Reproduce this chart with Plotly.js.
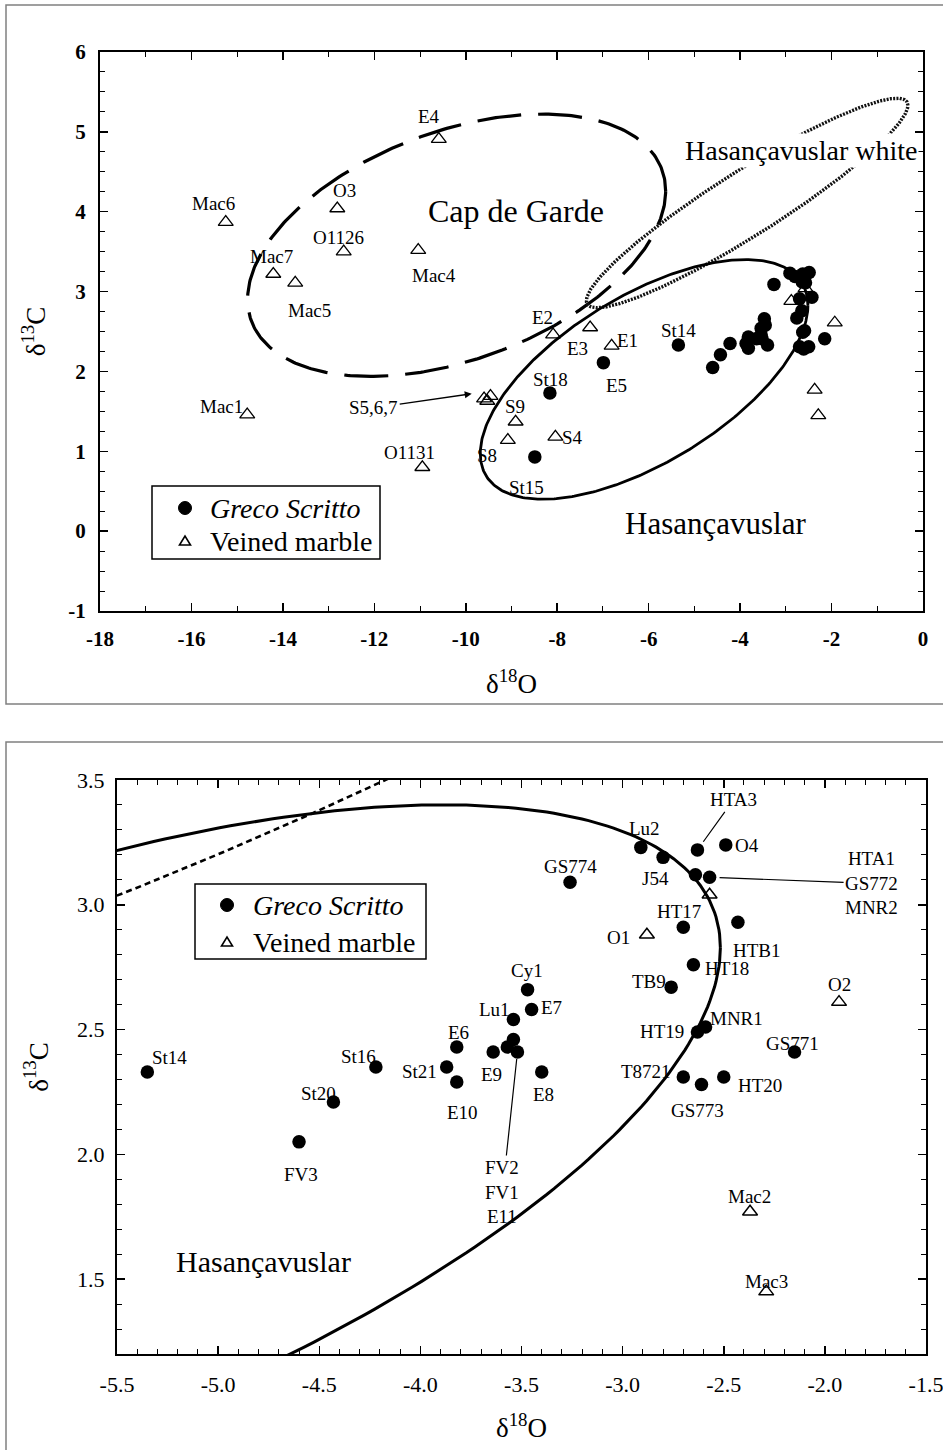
<!DOCTYPE html>
<html><head><meta charset="utf-8">
<script src="https://cdn.plot.ly/plotly-3.0.1.min.js"></script>
<style>html,body{margin:0;padding:0;background:#fff}</style>
</head><body>
<div id="chart" style="width:943px;height:1450px"></div>
<script>
// ---------- DATA ----------
// Greco Scritto samples (shown in both panels)
const grecoNames = ['St14','St20','FV3','St16','St21','E10','E6','E9','Lu1','E7','FV2','FV1','E11','E8','Cy1','GS774','Lu2','J54','HTA3','O4','HTA1','GS772','HT17','HTB1','HT18','TB9','MNR1','HT19','GS771','T8721','GS773','HT20'];
const grecoO = [-5.35,-4.43,-4.60,-4.22,-3.87,-3.82,-3.82,-3.64,-3.54,-3.45,-3.54,-3.57,-3.52,-3.40,-3.47,-3.26,-2.91,-2.80,-2.63,-2.49,-2.64,-2.57,-2.70,-2.43,-2.65,-2.76,-2.59,-2.63,-2.15,-2.70,-2.61,-2.50];
const grecoC = [2.33,2.21,2.05,2.35,2.35,2.29,2.43,2.41,2.54,2.58,2.46,2.43,2.41,2.33,2.66,3.09,3.23,3.19,3.22,3.24,3.12,3.11,2.91,2.93,2.76,2.67,2.51,2.49,2.41,2.31,2.28,2.31];
// Greco Scritto samples outside the detail window (overview only)
const grecoExtraNames = ['St18','E5','St15'];
const grecoExtraO = [-8.16,-6.99,-8.49];
const grecoExtraC = [1.73,2.11,0.93];
// Veined marble samples (both panels)
const veinedNames = ['MNR2','O1','O2','Mac2','Mac3'];
const veinedO = [-2.57,-2.88,-1.93,-2.37,-2.29];
const veinedC = [3.04,2.88,2.61,1.77,1.45];
// Veined marble samples outside the detail window (overview only)
const veinedExtraNames = ['E4','O3','O1126','Mac6','Mac7','Mac5','Mac4','Mac1','O1131','S5','S6','S7','S9','S8','S4','E2','E3','E1'];
const veinedExtraO = [-10.59,-12.81,-12.67,-15.25,-14.21,-13.73,-11.04,-14.78,-10.95,-9.60,-9.46,-9.53,-8.91,-9.08,-8.04,-8.09,-7.28,-6.81];
const veinedExtraC = [4.91,4.04,3.50,3.87,3.22,3.11,3.52,1.46,0.80,1.66,1.69,1.63,1.37,1.14,1.18,2.46,2.55,2.32];
// Field outlines: centre [d18O, d13C] and spread [var O, cov, var C]
const capCenter = [-10.2, 3.58];
const capSpread = [20.9, 3.1, 2.70];
const hasCenter = [-6.1, 1.9];
const hasSpread = [12.84, 3.324, 2.252];
const whiteTopCenter = [-3.846, 4.109];      // as drawn in the overview panel
const whiteTopSpread = [12.366, 4.298, 1.720];
const whiteCenter = [-3.846, 4.06];          // as drawn in the detail panel
const whiteSpread = [12.33, 4.76, 2.028];
// Tick labels
const topXTicks = [-18,-16,-14,-12,-10,-8,-6,-4,-2,0];
const topXText = ['-18','-16','-14','-12','-10','-8','-6','-4','-2','0'];
const topYTicks = [-1,0,1,2,3,4,5,6];
const topYText = ['-1','0','1','2','3','4','5','6'];
const botXTicks = [-5.5,-5,-4.5,-4,-3.5,-3,-2.5,-2,-1.5];
const botXText = ['-5.5','-5.0','-4.5','-4.0','-3.5','-3.0','-2.5','-2.0','-1.5'];
const botYTicks = [1.5,2,2.5,3,3.5];
const botYText = ['1.5','2.0','2.5','3.0','3.5'];
const legendNames = ['<i>Greco Scritto</i>', 'Veined marble'];

// ---------- STYLE / LAYOUT ----------
const SERIF = 'Liberation Serif, Times New Roman, serif';
const W = 943, H = 1450;

function ellipse(c, s, n) {
  const a = Math.sqrt(s[0]), b = s[1] / a, cc = Math.sqrt(s[2] - b * b);
  const xs = [], ys = [];
  for (let i = 0; i <= n; i++) {
    const t = 2 * Math.PI * i / n;
    xs.push(c[0] + a * Math.cos(t));
    ys.push(c[1] + b * Math.cos(t) + cc * Math.sin(t));
  }
  return {xs, ys};
}
const capE = ellipse(capCenter, capSpread, 400);
const hasE = ellipse(hasCenter, hasSpread, 400);
const whiteTopE = ellipse(whiteTopCenter, whiteTopSpread, 700);
const whiteE = ellipse(whiteCenter, whiteSpread, 600);

const traces = [];
// top panel curves
traces.push({x: capE.xs, y: capE.ys, xaxis:'x', yaxis:'y', mode:'lines', showlegend:false, hoverinfo:'skip',
  line:{color:'#000', width:3.2, dash:'44px,17px'}});
traces.push({x: whiteTopE.xs, y: whiteTopE.ys, xaxis:'x', yaxis:'y', mode:'lines', showlegend:false, hoverinfo:'skip',
  line:{color:'#111', width:3.4, dash:'2px,1.3px'}});
traces.push({x: hasE.xs, y: hasE.ys, xaxis:'x', yaxis:'y', mode:'lines', showlegend:false, hoverinfo:'skip',
  line:{color:'#000', width:2.8}});
// top panel points
traces.push({x: grecoO.concat(grecoExtraO), y: grecoC.concat(grecoExtraC), xaxis:'x', yaxis:'y', mode:'markers',
  name: legendNames[0], showlegend:false, marker:{symbol:'circle', size:13.5, color:'#000'}});
traces.push({x: veinedO.concat(veinedExtraO), y: veinedC.concat(veinedExtraC), xaxis:'x', yaxis:'y', mode:'markers',
  name: legendNames[1], showlegend:false, marker:{symbol:'triangle-up-open', size:13, color:'#000', line:{width:1.3, color:'#000'}}});
// bottom panel curves
traces.push({x: whiteE.xs, y: whiteE.ys, xaxis:'x2', yaxis:'y2', mode:'lines', showlegend:false, hoverinfo:'skip',
  line:{color:'#000', width:2.6, dash:'6px,4px'}});
traces.push({x: hasE.xs, y: hasE.ys, xaxis:'x2', yaxis:'y2', mode:'lines', showlegend:false, hoverinfo:'skip',
  line:{color:'#000', width:3}});
// bottom panel points
traces.push({x: grecoO, y: grecoC, xaxis:'x2', yaxis:'y2', mode:'markers',
  name: legendNames[0], showlegend:false, marker:{symbol:'circle', size:13.5, color:'#000'}});
traces.push({x: veinedO, y: veinedC, xaxis:'x2', yaxis:'y2', mode:'markers',
  name: legendNames[1], showlegend:false, marker:{symbol:'triangle-up-open', size:13, color:'#000', line:{width:1.5, color:'#000'}}});

// ---------- LABELS ----------
const anns = [];
function labels(names, xs, ys, specs, xr, yr, size) {
  specs.forEach(([n, dx, dy]) => {
    const i = names.indexOf(n);
    anns.push({xref:xr, yref:yr, x:xs[i], y:ys[i], xshift:dx, yshift:-dy, text:n, showarrow:false,
      xanchor:'center', yanchor:'middle', font:{family:SERIF, size:size, color:'#000'}});
  });
}
const topNames = grecoNames.concat(grecoExtraNames, veinedNames, veinedExtraNames);
const topO = grecoO.concat(grecoExtraO, veinedO, veinedExtraO);
const topC = grecoC.concat(grecoExtraC, veinedC, veinedExtraC);
labels(topNames, topO, topC, [
  ['St14',0,-15],['St18',1,-13],['E5',13,23],['St15',-8,31],
  ['E4',-10,-23],['O3',7,-18],['O1126',-5,-14],['Mac6',-12,-19],['Mac7',-2,-18],['Mac5',14,28],
  ['Mac4',16,25],['Mac1',-26,-8],['O1131',-13,-15],['S9',-1,-15],['S8',-21,15],['S4',17,1],
  ['E2',-11,-17],['E3',-13,21],['E1',16,-5]
], 'x', 'y', 19);
const botNames = grecoNames.concat(veinedNames);
const botO = grecoO.concat(veinedO);
const botC = grecoC.concat(veinedC);
labels(botNames, botO, botC, [
  ['St14',22,-14],['St16',-17,-11],['St20',-15,-8],['FV3',2,33],['St21',-27,4],['E10',6,31],
  ['E6',2,-15],['E9',-2,22],['Lu1',-19,-10],['E7',20,-2],['E8',2,23],['Cy1',-1,-19],
  ['GS774',0,-16],['Lu2',4,-19],['J54',-8,21],['O4',21,1],['HT17',-4,-16],['O1',-28,3],
  ['HTB1',19,28],['HT18',34,4],['TB9',-22,-6],['O2',0,-18],['MNR1',31,-9],['HT19',-35,-1],
  ['GS771',-2,-9],['T8721',-37,-5],['GS773',-4,26],['HT20',36,9],['Mac2',-1,-15],['Mac3',0,-10]
], 'x2', 'y2', 19);

// callouts
function idx(n) { return grecoNames.indexOf(n); }
anns.push({xref:'x2', yref:'y2', x:grecoO[idx('HTA3')], y:grecoC[idx('HTA3')], text:'HTA3', showarrow:true,
  arrowhead:0, arrowwidth:1.2, arrowcolor:'#000', ax:36, ay:-50, standoff:10, font:{family:SERIF, size:19, color:'#000'}});
anns.push({xref:'x2', yref:'y2', x:grecoO[idx('GS772')], y:grecoC[idx('GS772')], text:'HTA1<br>GS772<br>MNR2', showarrow:true,
  arrowhead:0, arrowwidth:1.2, arrowcolor:'#000', ax:162, ay:6, standoff:10, align:'center', font:{family:SERIF, size:19, color:'#000'}});
anns.push({xref:'x2', yref:'y2', x:grecoO[idx('E11')], y:grecoC[idx('E11')], text:'FV2<br>FV1<br>E11', showarrow:true,
  arrowhead:0, arrowwidth:1.2, arrowcolor:'#000', ax:-15, ay:140, standoff:7, align:'center', font:{family:SERIF, size:19, color:'#000'}});
anns.push({xref:'x', yref:'y', x:-9.87, y:1.72, text:'S5,6,7', showarrow:true,
  arrowhead:2, arrowsize:1, arrowwidth:1.4, arrowcolor:'#000', ax:-98, ay:14, standoff:0, font:{family:SERIF, size:19, color:'#000'}});
// region names
anns.push({xref:'x', yref:'y', x:-8.9, y:4.01, text:'Cap de Garde', showarrow:false, font:{family:SERIF, size:32, color:'#000'}});
anns.push({xref:'x', yref:'y', x:-2.66, y:4.77, text:'Hasançavuslar white', showarrow:false, bgcolor:'#fff', font:{family:SERIF, size:28, color:'#000'}});
anns.push({xref:'x', yref:'y', x:-4.53, y:0.09, text:'Hasançavuslar', showarrow:false, font:{family:SERIF, size:31, color:'#000'}});
anns.push({xref:'x2', yref:'y2', x:-4.776, y:1.569, text:'Hasançavuslar', showarrow:false, font:{family:SERIF, size:30, color:'#000'}});

// legend boxes (one per panel)
const shapes = [
  {type:'rect', xref:'paper', yref:'paper', x0:6/W, x1:1.02, y0:1-704/H, y1:1-5/H, line:{color:'#808080', width:1.5}},
  {type:'rect', xref:'paper', yref:'paper', x0:6/W, x1:1.02, y0:-0.02, y1:1-742/H, line:{color:'#808080', width:1.5}}
];
function legendBox(left, top, right, bottom, symX, row1, row2, textX) {
  shapes.push({type:'rect', xref:'paper', yref:'paper', x0:left/W, x1:right/W, y0:1-bottom/H, y1:1-top/H,
    line:{color:'#000', width:1.5}, fillcolor:'#fff', layer:'above'});
  shapes.push({type:'circle', xref:'paper', yref:'paper', xsizemode:'pixel', ysizemode:'pixel',
    xanchor:symX/W, yanchor:1-row1/H, x0:-6.5, x1:6.5, y0:-6.5, y1:6.5, fillcolor:'#000', line:{color:'#000', width:1}});
  shapes.push({type:'path', xref:'paper', yref:'paper', xsizemode:'pixel', ysizemode:'pixel',
    xanchor:symX/W, yanchor:1-row2/H, path:'M -5.5,-4 L 5.5,-4 L 0,5 Z', fillcolor:'rgba(0,0,0,0)', line:{color:'#000', width:1.6}});
  [row1, row2].forEach((r, k) => anns.push({xref:'paper', yref:'paper', x:textX/W, y:1-r/H, xanchor:'left', yanchor:'middle',
    text:legendNames[k], showarrow:false, font:{family:SERIF, size:28, color:'#000'}}));
}
legendBox(152, 486, 380, 559, 185, 508, 541, 208);
legendBox(195, 884, 426, 959, 227, 905, 942, 251);

function axis(common) {
  return Object.assign({showline:true, linecolor:'#000', linewidth:2, mirror:'ticks', ticks:'inside',
    tickcolor:'#000', tickwidth:1.5, ticklen:8, showgrid:false, zeroline:false, tickmode:'array',
    ticklabeloverflow:'allow', fixedrange:true}, common);
}
const layout = {
  width: W, height: H,
  margin: {l:0, r:0, t:0, b:0},
  paper_bgcolor:'#fff', plot_bgcolor:'#fff',
  showlegend: false,
  xaxis: axis({domain:[100/W, 923/W], anchor:'y', range:[-18,0], tickvals:topXTicks, ticktext:topXText,
    minor:{dtick:1, tick0:0, ticks:'inside', ticklen:5, tickcolor:'#000', tickwidth:1},
    tickfont:{family:SERIF, size:21, color:'#000', weight:'bold'}, ticklabelstandoff:8,
    title:{text:'δ<sup>18</sup>O', font:{family:SERIF, size:27, color:'#000'}, standoff:24}}),
  yaxis: axis({domain:[1-611/H, 1-52/H], anchor:'x', range:[-1,6], tickvals:topYTicks, ticktext:topYText,
    minor:{dtick:0.25, tick0:0, ticks:'inside', ticklen:5, tickcolor:'#000', tickwidth:1},
    tickfont:{family:SERIF, size:21, color:'#000', weight:'bold'}, ticklabelstandoff:8,
    title:{text:'δ<sup>13</sup>C', font:{family:SERIF, size:27, color:'#000'}, standoff:15}}),
  xaxis2: axis({domain:[117/W, 926/W], anchor:'y2', range:[-5.5,-1.5], tickvals:botXTicks, ticktext:botXText,
    minor:{dtick:0.1, tick0:0, ticks:'inside', ticklen:5, tickcolor:'#000', tickwidth:1},
    tickfont:{family:SERIF, size:22, color:'#000'}, ticklabelstandoff:10,
    title:{text:'δ<sup>18</sup>O', font:{family:SERIF, size:27, color:'#000'}, standoff:22}}),
  yaxis2: axis({domain:[1-1354/H, 1-780/H], anchor:'x2', range:[1.2,3.5], tickvals:botYTicks, ticktext:botYText,
    minor:{dtick:0.1, tick0:0, ticks:'inside', ticklen:5, tickcolor:'#000', tickwidth:1},
    tickfont:{family:SERIF, size:22, color:'#000'}, ticklabelstandoff:6,
    title:{text:'δ<sup>13</sup>C', font:{family:SERIF, size:27, color:'#000'}, standoff:21}}),
  annotations: anns,
  shapes: shapes
};
Plotly.newPlot('chart', traces, layout, {displayModeBar:false, staticPlot:true});
</script>
</body></html>
